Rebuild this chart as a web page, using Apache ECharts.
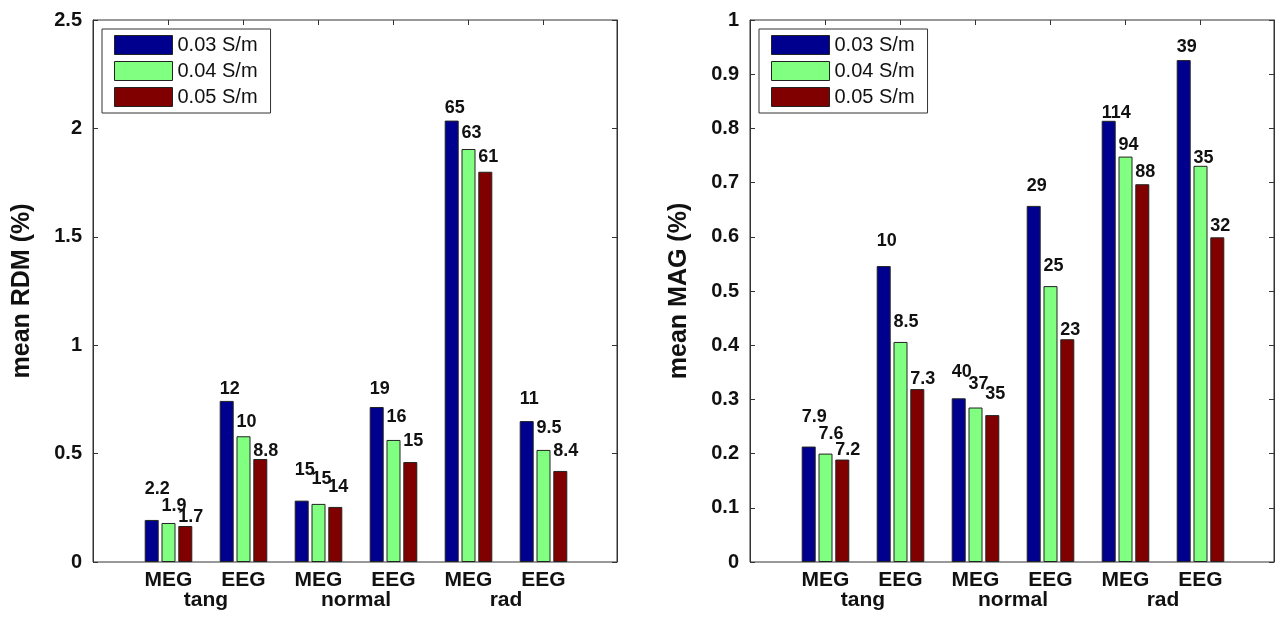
<!DOCTYPE html>
<html><head><meta charset="utf-8">
<script src="https://cdn.jsdelivr.net/npm/echarts@6/dist/echarts.min.js"></script>
<style>html,body{margin:0;padding:0;background:#fff}#c{width:1285px;height:621px}</style>
</head><body><div id="c"></div>
<script>
const categories = ['MEG','EEG','MEG','EEG','MEG','EEG'];
const groups = ['tang','normal','rad'];
const seriesNames = ['0.03 S/m','0.04 S/m','0.05 S/m'];
const colors = ['#00008f','#80ff80','#800000'];

const rdm003 = [0.194, 0.743, 0.283, 0.715, 2.036, 0.650];
const rdm004 = [0.180, 0.580, 0.268, 0.563, 1.905, 0.517];
const rdm005 = [0.166, 0.475, 0.254, 0.461, 1.800, 0.420];
const rdmLab003 = ['2.2','12','15','19','65','11'];
const rdmLab004 = ['1.9','10','15','16','63','9.5'];
const rdmLab005 = ['1.7','8.8','14','15','61','8.4'];

const mag003 = [0.213, 0.546, 0.302, 0.657, 0.814, 0.926];
const mag004 = [0.200, 0.406, 0.285, 0.509, 0.748, 0.731];
const mag005 = [0.189, 0.319, 0.271, 0.411, 0.697, 0.599];
const magLab003 = ['7.9','10','40','29','114','39'];
const magLab004 = ['7.6','8.5','37','25','94','35'];
const magLab005 = ['7.2','7.3','35','23','88','32'];

// label style: extra upward shift (px) of each value label, as placed in the original figure
const rdmLift = [[20, 1, 20, 7, 2, 11], [6, 3, 14, 12, 5, 11], [-2, -3, 9, 10, 4, 9]];
const magLift = [[19, 14, 15, 9, -3, 2], [9, 9, 12, 9, 1, -3], [-1, -1, 10, -2, 1, 0]];

const FONT = 'Liberation Sans, Arial, Helvetica, sans-serif';
const AX = '#333';

const panels = [
  {left: 93, title: 'mean RDM (%)', max: 2.5, interval: 0.5,
   data: [rdm003, rdm004, rdm005], labels: [rdmLab003, rdmLab004, rdmLab005], lift: rdmLift},
  {left: 750, title: 'mean MAG (%)', max: 1, interval: 0.1,
   data: [mag003, mag004, mag005], labels: [magLab003, magLab004, magLab005], lift: magLift}
];

const grid = [], xAxis = [], yAxis = [], series = [], legend = [];
panels.forEach((p, pi) => {
  const gFrame = grid.length;
  grid.push({left: p.left, top: 20, width: 524, height: 542, show: true,
    borderColor: AX, borderWidth: 1, backgroundColor: 'transparent'});
  const gBar = grid.length;
  grid.push({left: p.left + 38, top: 20, width: 450, height: 542});

  xAxis.push({gridIndex: gFrame, type: 'value', min: 0, max: 1, show: false});
  const xBar = xAxis.length;
  xAxis.push({gridIndex: gBar, type: 'category', data: categories, position: 'bottom',
    axisLine: {show: false}, axisTick: {show: false},
    axisLabel: {color: '#111', fontFamily: FONT, fontWeight: 'bold', fontSize: 21, margin: 8}});
  xAxis.push({gridIndex: gBar, type: 'category', data: groups, position: 'bottom',
    axisLine: {show: false}, axisTick: {show: false},
    axisLabel: {color: '#111', fontFamily: FONT, fontWeight: 'bold', fontSize: 21, margin: 28}});
  xAxis.push({gridIndex: gBar, type: 'category', data: categories, position: 'top',
    axisLine: {show: false}, axisLabel: {show: false},
    axisTick: {show: true, inside: true, length: 5, alignWithLabel: true, lineStyle: {color: AX}}});

  const fmt = v => String(Math.round(v * 10) / 10);
  yAxis.push({gridIndex: gFrame, type: 'value', min: 0, max: p.max, interval: p.interval, position: 'left',
    name: p.title, nameLocation: 'middle', nameGap: 58,
    nameTextStyle: {color: '#111', fontFamily: FONT, fontWeight: 'bold', fontSize: 25},
    axisLine: {show: true, lineStyle: {color: AX}},
    axisTick: {show: true, inside: true, length: 5, lineStyle: {color: AX}},
    splitLine: {show: false},
    axisLabel: {color: '#111', fontFamily: FONT, fontWeight: 'bold', fontSize: 20, margin: 11, formatter: fmt}});
  yAxis.push({gridIndex: gFrame, type: 'value', min: 0, max: p.max, interval: p.interval, position: 'right',
    axisLine: {show: true, lineStyle: {color: AX}},
    axisTick: {show: true, inside: true, length: 5, lineStyle: {color: AX}},
    splitLine: {show: false}, axisLabel: {show: false}});
  const yBar = yAxis.length;
  yAxis.push({gridIndex: gBar, type: 'value', min: 0, max: p.max, show: false, splitLine: {show: false}});

  seriesNames.forEach((name, si) => {
    const labs = p.labels[si];
    const lifts = p.lift[si];
    series.push({
      type: 'bar', name: name, xAxisIndex: xBar, yAxisIndex: yBar,
      data: p.data[si].map((v, i) => ({value: v, label: {offset: [-7, -lifts[i]]}})),
      barWidth: 14, barGap: '20%',
      itemStyle: {color: colors[si], borderColor: '#222', borderWidth: 1},
      label: {show: true, position: 'top', distance: 2, align: 'left',
        color: '#111', fontFamily: FONT, fontWeight: 'bold', fontSize: 18,
        formatter: prm => labs[prm.dataIndex]},
      emphasis: {disabled: true}, animation: false
    });
  });

  legend.push({data: seriesNames, orient: 'vertical', left: p.left + 9, top: 29,
    padding: [6, 13, 6, 12], itemGap: 6, itemWidth: 58, itemHeight: 19, icon: 'rect',
    borderColor: AX, borderWidth: 1, backgroundColor: '#fff',
    itemStyle: {borderColor: '#222', borderWidth: 1},
    textStyle: {color: '#111', fontFamily: FONT, fontSize: 20}, selectedMode: false});
});

const chart = echarts.init(document.getElementById('c'), null, {renderer: 'canvas'});
chart.setOption({animation: false, backgroundColor: '#fff', grid, xAxis, yAxis, series, legend});
</script></body></html>
